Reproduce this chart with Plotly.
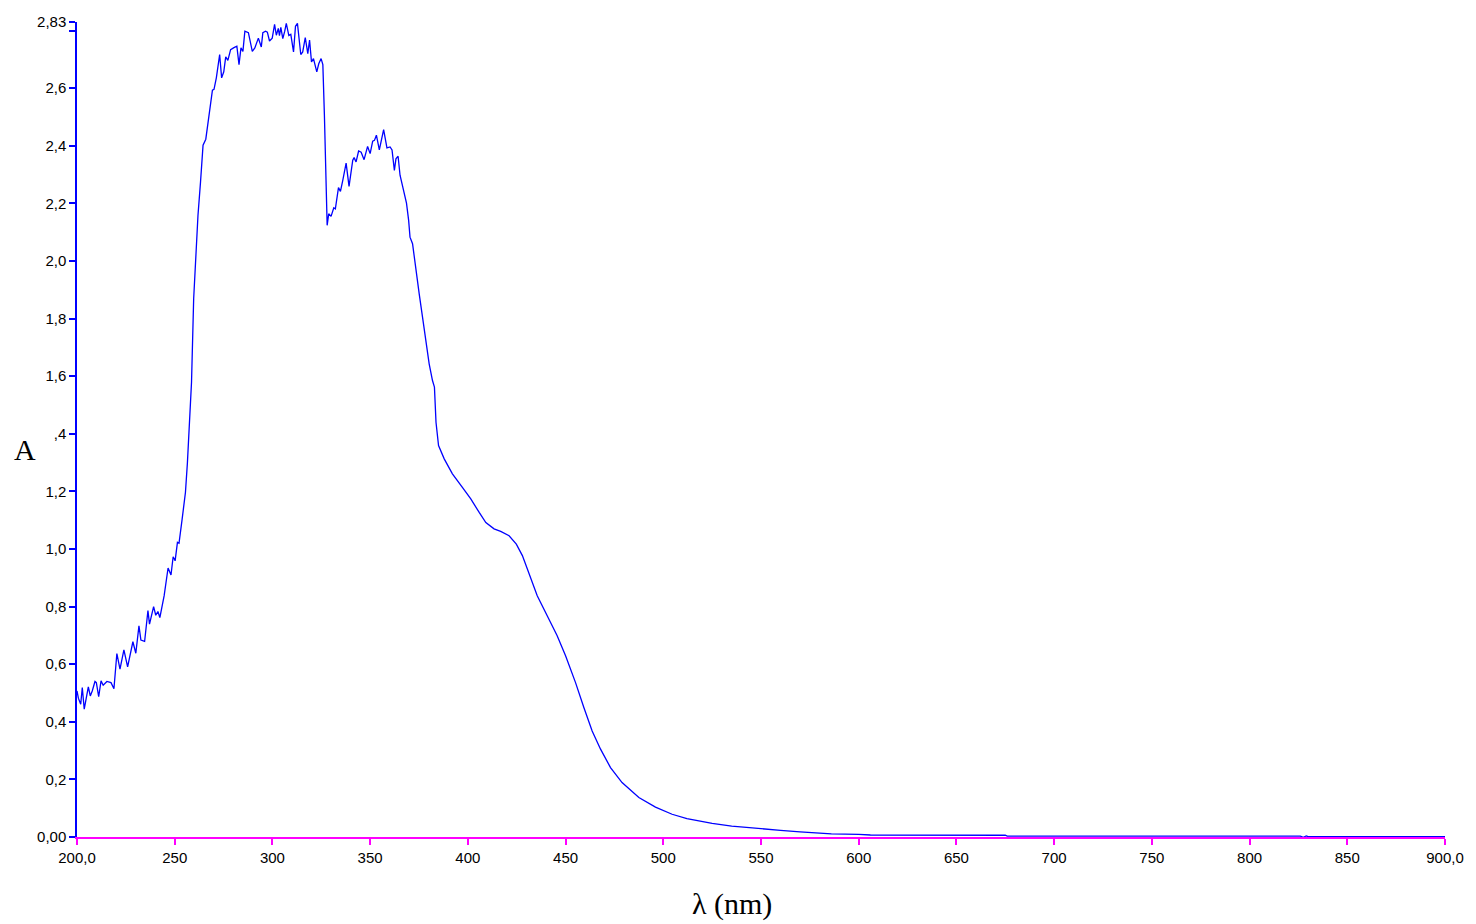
import plotly.graph_objects as go

# Wavelength (nm) and absorbance
wavelength_nm = [
    200.0, 200.7, 201.9, 202.7, 203.7, 205.8, 206.8, 207.8, 209.2, 209.9,
    211.1, 212.3, 213.4, 215.3, 217.4, 218.9, 220.4, 222.0, 224.0, 225.9,
    228.6, 230.1, 231.7, 232.7, 234.6, 236.3, 237.1, 239.2, 240.3, 241.4,
    242.4, 244.6, 246.6, 248.1, 249.2, 250.2, 251.4, 252.2, 253.8, 255.5,
    256.5, 258.6, 259.7, 260.8, 261.9, 263.2, 264.5, 265.9, 267.0, 268.3,
    269.3, 270.1, 271.3, 273.0, 274.0, 275.1, 276.1, 277.2, 278.6, 280.3,
    281.8, 282.9, 283.9, 284.9, 285.9, 287.7, 289.7, 291.0, 292.1, 292.8,
    294.3, 295.1, 296.5, 297.4, 298.5, 299.9, 301.1, 302.0, 303.0, 303.6,
    304.3, 305.3, 306.3, 307.1, 308.4, 309.4, 310.8, 311.8, 312.8, 314.5,
    315.5, 316.8, 318.1, 319.0, 320.0, 321.0, 322.7, 323.7, 324.9, 325.8,
    326.6, 327.5, 328.0, 328.8, 330.0, 331.4, 332.2, 333.8, 334.8, 336.0,
    337.7, 339.2, 341.1, 341.8, 342.8, 344.1, 345.4, 346.9, 348.7, 350.0,
    351.3, 352.2, 353.2, 354.7, 355.7, 356.9, 358.6, 360.2, 361.2, 362.4,
    363.2, 364.3, 365.3, 366.6, 368.6, 369.7, 370.4, 371.7, 373.4, 375.1,
    376.8, 378.5, 380.2, 381.9, 382.9, 383.7, 385.0, 387.9, 392.1, 397.2,
    401.5, 405.8, 409.2, 413.4, 416.8, 421.1, 424.8, 427.9, 431.3, 435.5,
    440.6, 445.7, 450.0, 455.1, 459.4, 463.6, 467.9, 473.0, 478.9, 487.5,
    496.0, 504.5, 512.1, 518.0, 525.0, 535.0, 545.0, 552.0, 560.0, 570.0,
    586.0, 600.0, 606.0, 675.0, 676.0, 826.0, 827.5, 829.0, 830.0, 900.0,
]
absorbance = [
    0.507, 0.482, 0.461, 0.519, 0.444, 0.521, 0.490, 0.507, 0.540, 0.536,
    0.487, 0.542, 0.527, 0.540, 0.536, 0.515, 0.637, 0.583, 0.650, 0.591,
    0.678, 0.638, 0.733, 0.684, 0.679, 0.786, 0.739, 0.800, 0.770, 0.783,
    0.762, 0.838, 0.934, 0.910, 0.973, 0.959, 1.023, 1.020, 1.104, 1.197,
    1.300, 1.579, 1.869, 2.043, 2.158, 2.274, 2.402, 2.423, 2.483, 2.552,
    2.593, 2.596, 2.636, 2.717, 2.636, 2.657, 2.709, 2.697, 2.734, 2.741,
    2.746, 2.682, 2.740, 2.728, 2.798, 2.793, 2.728, 2.740, 2.757, 2.774,
    2.743, 2.793, 2.798, 2.795, 2.764, 2.774, 2.822, 2.784, 2.808, 2.783,
    2.811, 2.772, 2.798, 2.825, 2.783, 2.787, 2.726, 2.815, 2.825, 2.717,
    2.726, 2.776, 2.720, 2.767, 2.691, 2.703, 2.657, 2.685, 2.703, 2.682,
    2.506, 2.274, 2.124, 2.164, 2.155, 2.185, 2.181, 2.255, 2.242, 2.280,
    2.340, 2.259, 2.350, 2.359, 2.344, 2.382, 2.378, 2.352, 2.398, 2.373,
    2.416, 2.419, 2.437, 2.386, 2.413, 2.456, 2.393, 2.396, 2.386, 2.315,
    2.355, 2.364, 2.298, 2.257, 2.201, 2.141, 2.083, 2.060, 1.967, 1.886,
    1.805, 1.724, 1.643, 1.585, 1.562, 1.440, 1.359, 1.313, 1.261, 1.214,
    1.174, 1.127, 1.092, 1.070, 1.061, 1.046, 1.017, 0.977, 0.913, 0.838,
    0.768, 0.699, 0.629, 0.536, 0.449, 0.368, 0.305, 0.241, 0.189, 0.137,
    0.104, 0.079, 0.064, 0.057, 0.047, 0.038, 0.031, 0.027, 0.023, 0.018,
    0.011, 0.009, 0.007, 0.006, 0.003, 0.003, -0.001, 0.004, 0.001, 0.001,
]

x_tickvals = [200, 250, 300, 350, 400, 450, 500, 550, 600, 650, 700, 750, 800, 850, 900]
x_ticktext = ["200,0", "250", "300", "350", "400", "450", "500", "550", "600",
              "650", "700", "750", "800", "850", "900,0"]
y_tickvals = [0.0, 0.2, 0.4, 0.6, 0.8, 1.0, 1.2, 1.4, 1.6, 1.8, 2.0, 2.2, 2.4, 2.6, 2.8, 2.83]
y_ticktext = ["0,00", "0,2", "0,4", "0,6", "0,8", "1,0", "1,2", ",4", "1,6", "1,8",
              "2,0", "2,2", "2,4", "2,6", "", "2,83"]

fig = go.Figure()
fig.add_trace(go.Scatter(
    x=wavelength_nm, y=absorbance, mode="lines",
    line=dict(color="#0000FF", width=1.3),
    showlegend=False, hoverinfo="x+y",
))

tick_font = dict(family="Liberation Sans, Arial, sans-serif", size=15, color="#000000")
title_font = dict(family="Liberation Serif, Times New Roman, serif", size=30, color="#000000")

fig.update_layout(
    width=1476, height=924,
    margin=dict(l=77, r=28, t=22, b=87),
    paper_bgcolor="white", plot_bgcolor="white",
    xaxis=dict(
        range=[200, 900], tickvals=x_tickvals, ticktext=x_ticktext,
        showline=True, linecolor="#FF00FF", linewidth=1.5,
        ticks="outside", ticklen=6, tickcolor="#FF00FF", tickwidth=1.5,
        showgrid=False, zeroline=False, tickfont=tick_font,
        layer="below traces",
    ),
    yaxis=dict(
        range=[0, 2.83], tickvals=y_tickvals, ticktext=y_ticktext,
        showline=True, linecolor="#0000FF", linewidth=1.5,
        ticks="outside", ticklen=6, tickcolor="#0000FF", tickwidth=1.5,
        showgrid=False, zeroline=False, tickfont=tick_font,
        layer="below traces",
    ),
    annotations=[
        dict(text="A", xref="paper", yref="paper", x=-0.0381, y=0.4754,
             xanchor="center", yanchor="middle", showarrow=False, font=title_font),
        dict(text="λ (nm)", xref="paper", yref="paper", x=0.4785, y=-0.0823,
             xanchor="center", yanchor="middle", showarrow=False, font=title_font),
    ],
)

fig.write_html("out.html")
